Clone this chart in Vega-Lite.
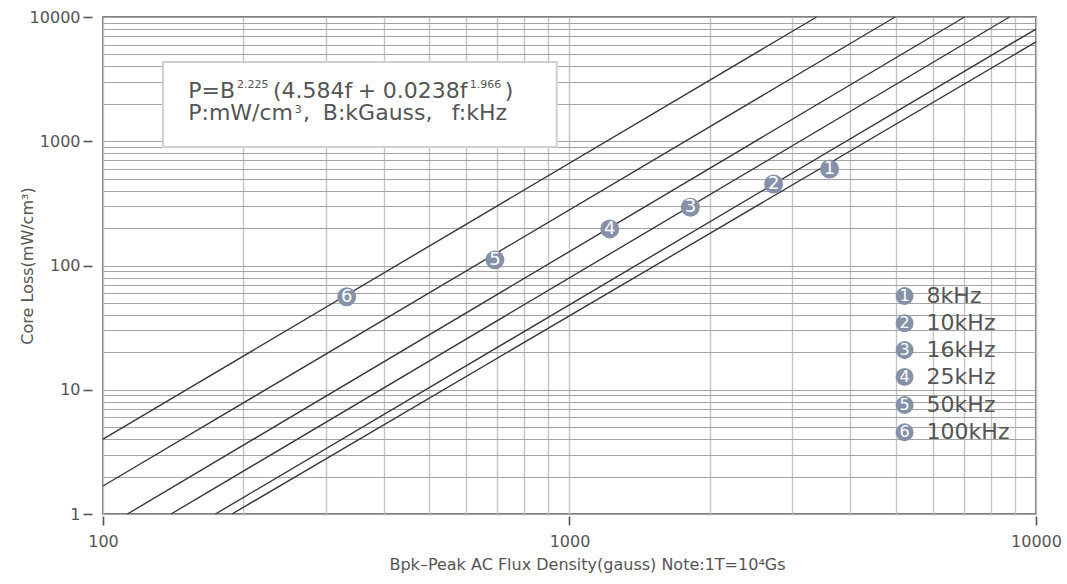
{
  "$schema": "https://vega.github.io/schema/vega-lite/v6.json",
  "width": 933,
  "height": 497,
  "autosize": {"type": "none"},
  "padding": {"left": 103, "top": 17, "right": 31, "bottom": 70},
  "background": "white",
  "config": {
    "font": "DejaVu Sans",
    "view": {"stroke": "#555555", "strokeWidth": 1.6}
  },
  "datasets": {
    "lines": [
      {"f": "100kHz", "B": 100, "P": 4.01},
      {"f": "100kHz", "B": 3386, "P": 10000},
      {"f": "50kHz", "B": 100, "P": 1.68},
      {"f": "50kHz", "B": 4988, "P": 10000},
      {"f": "25kHz", "B": 112.8, "P": 1},
      {"f": "25kHz", "B": 7028, "P": 10000},
      {"f": "16kHz", "B": 139.9, "P": 1},
      {"f": "16kHz", "B": 8774, "P": 10000},
      {"f": "10kHz", "B": 174.2, "P": 1},
      {"f": "10kHz", "B": 10000, "P": 8000},
      {"f": "8kHz", "B": 189, "P": 1},
      {"f": "8kHz", "B": 10000, "P": 6300}
    ],
    "markers": [
      {"n": "1", "B": 3610, "P": 598},
      {"n": "2", "B": 2739, "P": 453},
      {"n": "3", "B": 1816, "P": 294},
      {"n": "4", "B": 1220, "P": 197},
      {"n": "5", "B": 692, "P": 111},
      {"n": "6", "B": 333, "P": 56}
    ],
    "legend": [
      {"n": "1", "label": "8kHz", "B": 5228, "Bt": 5828, "P": 56.8},
      {"n": "2", "label": "10kHz", "B": 5228, "Bt": 5828, "P": 34.3},
      {"n": "3", "label": "16kHz", "B": 5228, "Bt": 5828, "P": 20.9},
      {"n": "4", "label": "25kHz", "B": 5228, "Bt": 5828, "P": 12.7},
      {"n": "5", "label": "50kHz", "B": 5228, "Bt": 5828, "P": 7.54},
      {"n": "6", "label": "100kHz", "B": 5228, "Bt": 5828, "P": 4.55}
    ],
    "box": [
      {"B": 134.5, "B2": 938.9, "P": 4343, "P2": 898.9}
    ],
    "formula": [
      {"t": "P=B", "B": 152.3, "P": 2249},
      {"t": "(4.584f", "B": 231.3, "P": 2249},
      {"t": "+", "B": 351.8, "P": 2249},
      {"t": "0.0238f", "B": 398.0, "P": 2249},
      {"t": ")", "B": 726.5, "P": 2249},
      {"t": "P:mW/cm", "B": 152.3, "P": 1469},
      {"t": ",", "B": 268.2, "P": 1469},
      {"t": "B:kGauss,", "B": 296.0, "P": 1469},
      {"t": "f:kHz", "B": 559.5, "P": 1469}
    ],
    "sup": [
      {"t": "2.225", "B": 193.7, "P": 2683},
      {"t": "1.966", "B": 611.3, "P": 2683},
      {"t": "3", "B": 257.8, "P": 1688}
    ]
  },
  "encoding": {
    "x": {
      "field": "B",
      "type": "quantitative",
      "scale": {"type": "log", "domain": [100, 10000], "nice": false},
      "axis": {
        "values": [100, 200, 300, 400, 500, 600, 700, 800, 900, 1000, 2000, 3000, 4000, 5000, 6000, 7000, 8000, 9000, 10000],
        "format": "d",
        "grid": true,
        "gridColor": "#c4c4c4",
        "gridWidth": 1.4,
        "domain": false,
        "offset": 2,
        "tickSize": 9,
        "tickWidth": 1.6,
        "tickColor": "#555555",
        "tickOpacity": {"condition": {"test": "indexof([100, 1000, 10000], datum.value) >= 0", "value": 1}, "value": 0},
        "labelExpr": "indexof([100, 1000, 10000], datum.value) >= 0 ? datum.label : ''",
        "labelOverlap": false,
        "labelFlush": false,
        "labelFontSize": 16,
        "labelColor": "#555555",
        "labelPadding": 8,
        "title": "Bpk–Peak AC Flux Density(gauss) Note:1T=10⁴Gs",
        "titleFontSize": 16,
        "titleFontWeight": "normal",
        "titleColor": "#555555",
        "titlePadding": 7,
        "titleX": 484
      }
    },
    "y": {
      "field": "P",
      "type": "quantitative",
      "scale": {"type": "log", "domain": [1, 10000], "nice": false},
      "axis": {
        "values": [1, 2, 3, 4, 5, 6, 7, 8, 9, 10, 20, 30, 40, 50, 60, 70, 80, 90, 100, 200, 300, 400, 500, 600, 700, 800, 900, 1000, 2000, 3000, 4000, 5000, 6000, 7000, 8000, 9000, 10000],
        "format": "d",
        "grid": true,
        "gridColor": "#a4a4a4",
        "gridWidth": 1,
        "domain": false,
        "offset": 11,
        "tickSize": 9,
        "tickWidth": 1.6,
        "tickColor": "#555555",
        "tickOpacity": {"condition": {"test": "indexof([1, 10, 100, 1000, 10000], datum.value) >= 0", "value": 1}, "value": 0},
        "labelExpr": "indexof([1, 10, 100, 1000, 10000], datum.value) >= 0 ? datum.label : ''",
        "labelOverlap": false,
        "labelFlush": false,
        "labelFontSize": 16,
        "labelColor": "#555555",
        "labelPadding": 3,
        "title": "Core Loss(mW/cm³)",
        "titleFontSize": 16,
        "titleFontWeight": "normal",
        "titleColor": "#555555",
        "titleBaseline": "alphabetic",
        "titleX": -60
      }
    }
  },
  "layer": [
    {
      "data": {"name": "box"},
      "mark": {"type": "rect", "fill": "white", "stroke": "#d0d0d0", "strokeWidth": 2},
      "encoding": {
        "x2": {"field": "B2"},
        "y2": {"field": "P2"}
      }
    },
    {
      "data": {"name": "lines"},
      "mark": {"type": "line", "color": "#383838", "strokeWidth": 1.4},
      "encoding": {
        "detail": {"field": "f", "type": "nominal"}
      }
    },
    {
      "data": {"name": "markers"},
      "mark": {"type": "circle", "color": "#8591a8", "opacity": 1, "size": 360}
    },
    {
      "data": {"name": "markers"},
      "mark": {"type": "text", "color": "white", "fontSize": 18, "align": "center", "baseline": "middle"},
      "encoding": {"text": {"field": "n"}}
    },
    {
      "data": {"name": "legend"},
      "mark": {"type": "circle", "color": "#8591a8", "opacity": 1, "size": 320}
    },
    {
      "data": {"name": "legend"},
      "mark": {"type": "text", "color": "white", "fontSize": 16, "align": "center", "baseline": "middle"},
      "encoding": {"text": {"field": "n"}}
    },
    {
      "data": {"name": "legend"},
      "mark": {"type": "text", "color": "#555555", "fontSize": 22, "align": "left", "baseline": "middle"},
      "encoding": {
        "x": {"field": "Bt", "type": "quantitative"},
        "text": {"field": "label"}
      }
    },
    {
      "data": {"name": "formula"},
      "mark": {"type": "text", "color": "#555555", "fontSize": 22, "align": "left", "baseline": "alphabetic"},
      "encoding": {"text": {"field": "t"}}
    },
    {
      "data": {"name": "sup"},
      "mark": {"type": "text", "color": "#555555", "fontSize": 11, "align": "left", "baseline": "alphabetic"},
      "encoding": {"text": {"field": "t"}}
    }
  ]
}
